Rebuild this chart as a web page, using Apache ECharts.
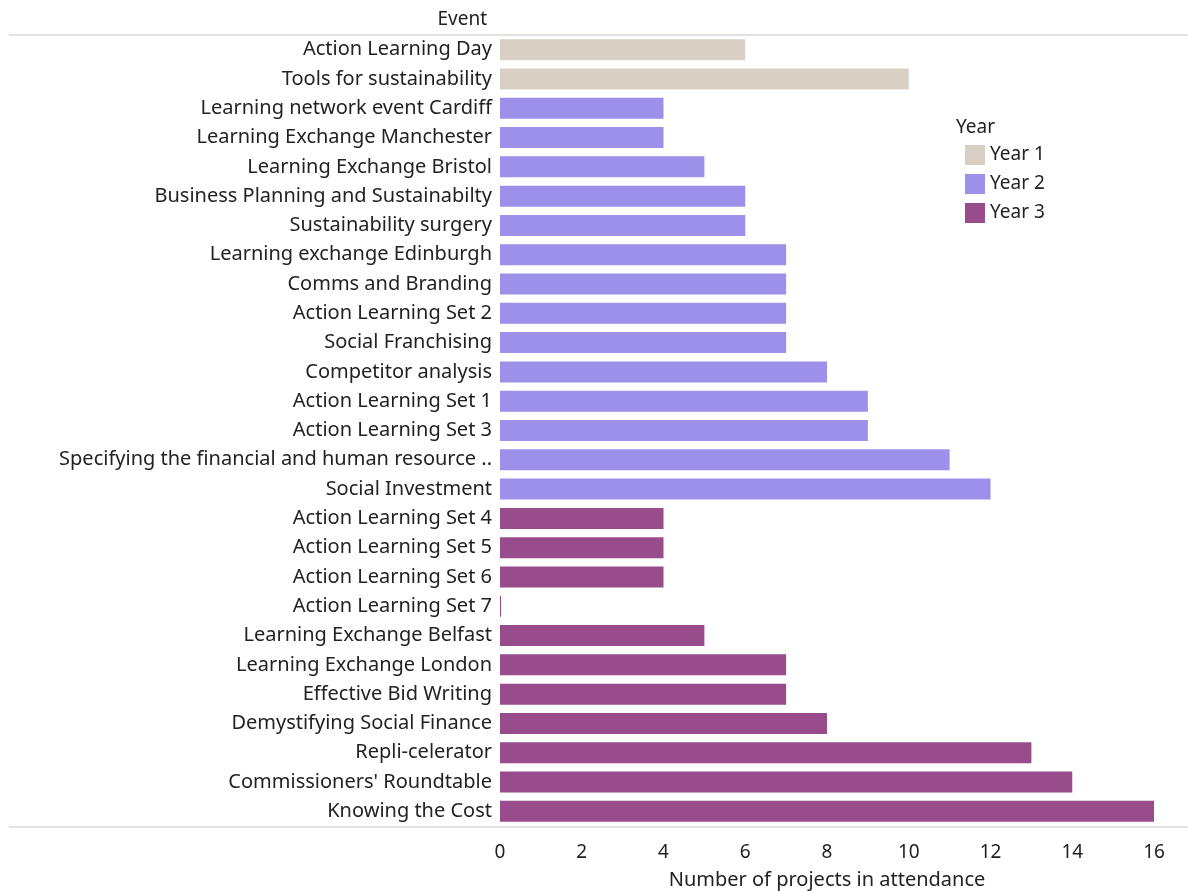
<!DOCTYPE html>
<html>
<head>
    <meta charset="utf-8">
    <title>ECharts</title>
    <script src="https://cdn.jsdelivr.net/npm/echarts@6/dist/echarts.min.js"></script>
</head>
<body style="margin:0">
    <div id="main" style="width: 1188px;height:891px;"></div>
</body>
<script type="text/javascript">
    // events, top to bottom
    var events = [
        'Action Learning Day', 'Tools for sustainability',
        'Learning network event Cardiff', 'Learning Exchange Manchester', 'Learning Exchange Bristol',
        'Business Planning and Sustainabilty', 'Sustainability surgery', 'Learning exchange Edinburgh',
        'Comms and Branding', 'Action Learning Set 2', 'Social Franchising', 'Competitor analysis',
        'Action Learning Set 1', 'Action Learning Set 3', 'Specifying the financial and human resource ..',
        'Social Investment',
        'Action Learning Set 4', 'Action Learning Set 5', 'Action Learning Set 6', 'Action Learning Set 7',
        'Learning Exchange Belfast', 'Learning Exchange London', 'Effective Bid Writing',
        'Demystifying Social Finance', 'Repli-celerator', "Commissioners' Roundtable", 'Knowing the Cost'
    ];
    var year1 = [6, 10, null, null, null, null, null, null, null, null, null, null, null, null, null, null,
        null, null, null, null, null, null, null, null, null, null, null];
    var year2 = [null, null, 4, 4, 5, 6, 6, 7, 7, 7, 7, 8, 9, 9, 11, 12,
        null, null, null, null, null, null, null, null, null, null, null];
    var year3 = [null, null, null, null, null, null, null, null, null, null, null, null, null, null, null, null,
        4, 4, 4, 0, 5, 7, 7, 8, 13, 14, 16];
    var xTicks = [0, 2, 4, 6, 8, 10, 12, 14, 16];

    var font = 'Noto Sans';
    var chart = echarts.init(document.getElementById('main'));

    function barSeries(name, data, color) {
        return {
            name: name,
            type: 'bar',
            stack: 'all',
            data: data,
            barWidth: 21,
            barMinHeight: name === 'Year 3' ? 1 : 0,
            itemStyle: { color: color },
            emphasis: { disabled: true }
        };
    }

    chart.setOption({
        animation: false,
        backgroundColor: '#fff',
        textStyle: { fontFamily: font },
        title: {
            text: 'Event',
            right: 696,
            top: 5,
            textStyle: { fontFamily: font, fontSize: 19, fontWeight: 'normal', color: '#222' }
        },
        legend: {
            data: ['Year 1', 'Year 2', 'Year 3'],
            orient: 'vertical',
            left: 960,
            top: 140,
            icon: 'rect',
            itemWidth: 20,
            itemHeight: 20,
            itemGap: 9,
            selectedMode: false,
            textStyle: { fontFamily: font, fontSize: 19, color: '#222' }
        },
        graphic: [
            { type: 'text', left: 956, top: 118, style: { text: 'Year', font: '19px "Noto Sans"', fill: '#222' } },
            { type: 'line', shape: { x1: 9, y1: 35, x2: 1188, y2: 35 }, style: { stroke: '#e2e2e2', lineWidth: 2 } },
            { type: 'line', shape: { x1: 9, y1: 827, x2: 1188, y2: 827 }, style: { stroke: '#e2e2e2', lineWidth: 2 } }
        ],
        grid: { left: 500, right: 34, top: 35, bottom: 65, containLabel: false, outerBoundsMode: 'none' },
        xAxis: {
            type: 'value',
            min: 0,
            max: 16,
            interval: 2,
            name: 'Number of projects in attendance',
            nameLocation: 'middle',
            nameGap: 44,
            nameTextStyle: { fontFamily: font, fontSize: 20, color: '#222' },
            axisLine: { show: false },
            axisTick: { show: false },
            splitLine: { show: false },
            axisLabel: {
                fontFamily: font, fontSize: 19, color: '#222', margin: 17,
                formatter: function (v) { return xTicks.indexOf(v) >= 0 ? String(v) : ''; }
            }
        },
        yAxis: {
            type: 'category',
            data: events,
            inverse: true,
            axisLine: { show: false },
            axisTick: { show: false },
            axisLabel: { fontFamily: font, fontSize: 20, color: '#222', margin: 8 }
        },
        series: [
            barSeries('Year 1', year1, '#d7d0c3'),
            barSeries('Year 2', year2, '#9d90ea'),
            barSeries('Year 3', year3, '#984c8b')
        ]
    });
</script>
</html>
